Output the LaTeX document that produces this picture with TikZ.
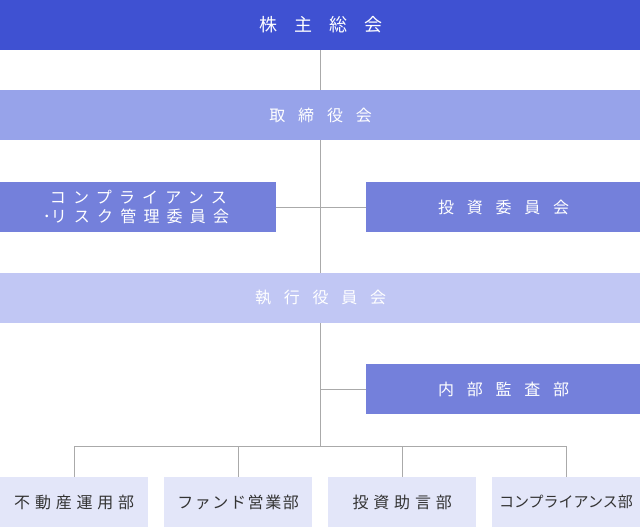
\documentclass[tikz,border=0pt]{standalone}
\usepackage{fontspec}
\setmainfont{Noto Sans CJK JP}
\definecolor{c1}{HTML}{3F51D2}
\definecolor{c2}{HTML}{97A3EA}
\definecolor{c3}{HTML}{7480DB}
\definecolor{c4}{HTML}{C1C7F4}
\definecolor{c5}{HTML}{E3E6F9}
\definecolor{ln}{HTML}{AAAAAA}
\definecolor{tx}{HTML}{333333}
% letter spaced text, #1 in percent of em
\newcommand{\lsp}[2]{{\addfontfeature{LetterSpace=#1}#2\kern-0.0#1em}}
\begin{document}
\begin{tikzpicture}[x=1pt,y=-1pt]
    \useasboundingbox (0,0) rectangle (640,527);

    \begin{scope}[every node/.style={rectangle, inner sep=0pt, minimum height=50pt, text=white}]
        \node[fill=c1, minimum width=640pt, font=\fontsize{18}{20}\selectfont] (soukai) at (320,25) {\lsp{95}{株主総会}};
        \node[fill=c2, minimum width=640pt, font=\fontsize{16}{18}\selectfont] (torishimari) at (320,115) {\lsp{80}{取締役会}};
        \node[fill=c3, minimum width=276pt, font=\fontsize{16}{19}\selectfont, align=center] (comp) at (138,207) {\lsp{45}{コンプライアンス}\\\kern-0.3em･\lsp{45}{リスク管理委員会}};
        \node[fill=c3, minimum width=274pt, font=\fontsize{16}{18}\selectfont] (toushi) at (503,207) {\lsp{80}{投資委員会}};
        \node[fill=c4, minimum width=640pt, font=\fontsize{16}{18}\selectfont] (shikkou) at (320,298) {\lsp{80}{執行役員会}};
        \node[fill=c3, minimum width=274pt, font=\fontsize{16}{18}\selectfont] (kansa) at (503,389) {\lsp{80}{内部監査部}};
    \end{scope}

    \begin{scope}[every node/.style={rectangle, fill=c5, inner sep=0pt, minimum width=148pt, minimum height=50pt, text=tx, font=\fontsize{16}{18}\selectfont}]
        \node (fudousan) at (74,502) {\lsp{30}{不動産運用部}};
        \node (fund) at (238,502) {\lsp{10}{ファンド営業部}};
        \node (jogen) at (402,502) {\lsp{30}{投資助言部}};
        \node[font=\fontsize{15}{16}\selectfont] (compbu) at (566,502) {コンプライアンス部};
    \end{scope}

    \coordinate (k) at (320,389);
    \coordinate (bus) at (320,446);
    \coordinate (b1) at (74,446);
    \coordinate (b2) at (238,446);
    \coordinate (b3) at (402,446);
    \coordinate (b4) at (566,446);

    \begin{scope}[every edge/.style={draw=ln, line width=1pt}]
        \path [-] (soukai) edge (torishimari);
        \path [-] (torishimari) edge (shikkou);
        \path [-] (comp) edge (toushi);
        \path [-] (shikkou) edge (bus);
        \path [-] (k) edge (kansa);
        \path [-] (b1) edge (b4);
        \path [-] (b1) edge (fudousan);
        \path [-] (b2) edge (fund);
        \path [-] (b3) edge (jogen);
        \path [-] (b4) edge (compbu);
    \end{scope}
\end{tikzpicture}
\end{document}
